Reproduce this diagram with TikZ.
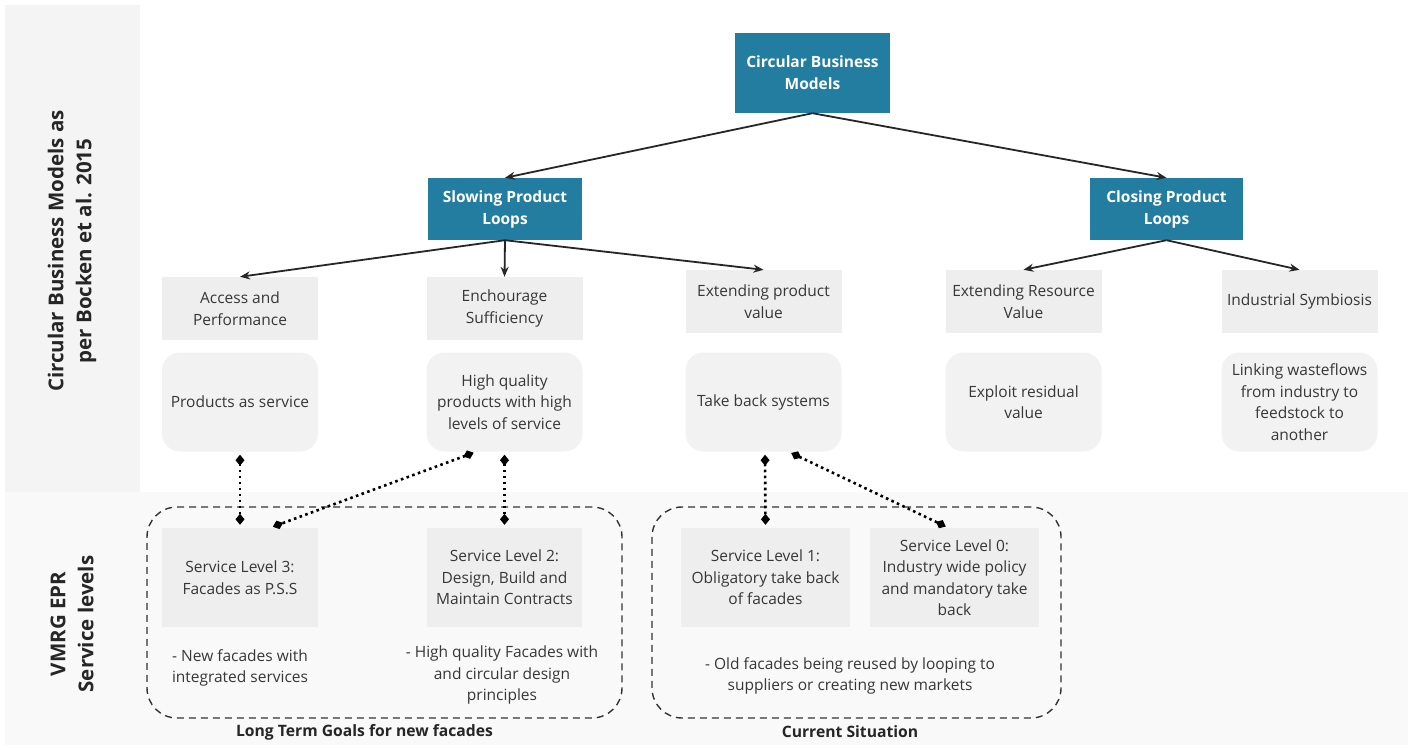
\documentclass[tikz,border=0pt]{standalone}
\usepackage{fontspec}
\setmainfont{Open Sans}
\usetikzlibrary{arrows.meta}
\definecolor{teal}{RGB}{35,125,160}
\definecolor{catgrey}{RGB}{238,238,238}
\definecolor{roundgrey}{RGB}{242,242,242}
\definecolor{panelgrey}{RGB}{244,244,244}
\definecolor{bandgrey}{RGB}{249,249,249}
\definecolor{txt}{RGB}{55,55,55}
\tikzset{
  topbox/.style={fill=teal, text=white, font=\fontsize{15.5}{22}\selectfont\bfseries, align=center, inner sep=0pt},
  catbox/.style={fill=catgrey, text=txt, font=\fontsize{15.5}{21.5}\selectfont, align=center, minimum width=156, minimum height=63, inner sep=0pt},
  rbox/.style={fill=roundgrey, text=txt, font=\fontsize{15.5}{21.5}\selectfont, align=center, minimum width=156, minimum height=99, rounded corners=18, inner sep=0pt},
  slbox/.style={fill=catgrey, text=txt, font=\fontsize{15.5}{21.5}\selectfont, align=center, minimum height=99, inner sep=0pt},
  plain/.style={text=txt, font=\fontsize{15.5}{21.5}\selectfont, align=center, inner sep=0pt},
  sidelabel/.style={text=black!85, font=\fontsize{20.5}{28}\selectfont\bfseries, align=center, rotate=90, inner sep=0pt},
  grouplabel/.style={text=black!85, font=\fontsize{15.7}{20}\selectfont\bfseries, inner sep=0pt},
  tree/.style={-{Stealth[length=10, width=8]}, line width=1.8, black!85},
  dotlink/.style={{Diamond[length=11, width=9]}-{Diamond[length=11, width=9]}, line width=2.6, dash pattern=on 2.6pt off 3.4pt, black, shorten <=3, shorten >=3},
  group/.style={draw=black!80, line width=1.4, dash pattern=on 7 off 5, rounded corners=30}
}
\begin{document}
\begin{tikzpicture}[x=1pt,y=-1pt]
\useasboundingbox (0,0) rectangle (1412,749);
\fill[white] (0,0) rectangle (1412,749);
\fill[panelgrey] (5,5) rectangle (140,492);
\fill[bandgrey] (5,492) rectangle (1408,745);

% side labels
\node[sidelabel] (sideA) at (72,251) {Circular Business Models as\\per Bocken et al. 2015};
\node[sidelabel] (sideB) at (72,624) {VMRG EPR\\Service levels};

% tree
\node[topbox, minimum width=155, minimum height=80] (cbm) at (812.5,73) {Circular Business\\Models};
\node[topbox, minimum width=154, minimum height=62] (slow) at (505,209) {Slowing Product\\Loops};
\node[topbox, minimum width=153, minimum height=62] (close) at (1166.5,209) {Closing Product\\Loops};

\node[catbox] (acc) at (240,308.5) {Access and\\Performance};
\node[catbox] (enc) at (504.5,308.5) {Enchourage\\Sufficiency};
\node[catbox] (extp) at (763.5,301.5) {Extending product\\value};
\node[catbox] (extr) at (1023.5,301.5) {Extending Resource\\Value};
\node[catbox] (ind) at (1299.5,301.5) {Industrial Symbiosis};

\node[rbox] (pas) at (240,402) {Products as service};
\node[rbox] (hq) at (504.5,402) {High quality\\products with high\\levels of service};
\node[rbox] (tb) at (763.5,402) {Take back systems};
\node[rbox] (exr) at (1023.5,402) {Exploit residual\\value};
\node[rbox] (lw) at (1299.5,402) {Linking wasteflows\\from industry to\\feedstock to\\another};

\draw[tree] (cbm.south) -- (slow.north);
\draw[tree] (cbm.south) -- (close.north);
\draw[tree] (slow.south) -- (acc.north);
\draw[tree] (slow.south) -- (enc.north);
\draw[tree] (slow.south) -- (extp.north);
\draw[tree] (close.south) -- (extr.north);
\draw[tree] (close.south) -- (ind.north);

% groups
\node[group, minimum width=475, minimum height=211] (g1) at (384.5,612.5) {};
\node[group, minimum width=409, minimum height=211] (g2) at (856.5,612.5) {};
\node[grouplabel] (g1l) at (364.5,732) {Long Term Goals for new facades};
\node[grouplabel] (g2l) at (850,732) {Current Situation};

\node[slbox, minimum width=156] (sl3) at (240,577.5) {Service Level 3:\\Facades as P.S.S};
\node[slbox, minimum width=155] (sl2) at (504.5,577.5) {Service Level 2:\\Design, Build and\\Maintain Contracts};
\node[slbox, minimum width=169] (sl1) at (765.5,577.5) {Service Level 1:\\Obligatory take back\\of facades};
\node[slbox, minimum width=169] (sl0) at (954.5,577.5) {Service Level 0:\\Industry wide policy\\and mandatory take\\back};

\node[plain] (b3) at (240,668) {- New facades with\\integrated services};
\node[plain] (b2) at (502,675) {- High quality Facades with\\and circular design\\principles};
\node[plain] (b1) at (850,676) {- Old facades being reused by looping to\\suppliers or creating new markets};

% dotted links
\draw[dotlink] (pas.south) -- (sl3.north);
\draw[dotlink] ([xshift=-28]hq.south) -- ([xshift=30]sl3.north);
\draw[dotlink] (hq.south) -- (sl2.north);
\draw[dotlink] ([xshift=1.5]tb.south) -- (sl1.north);
\draw[dotlink] ([xshift=25]tb.south) -- ([xshift=-6]sl0.north);
\end{tikzpicture}
\end{document}
